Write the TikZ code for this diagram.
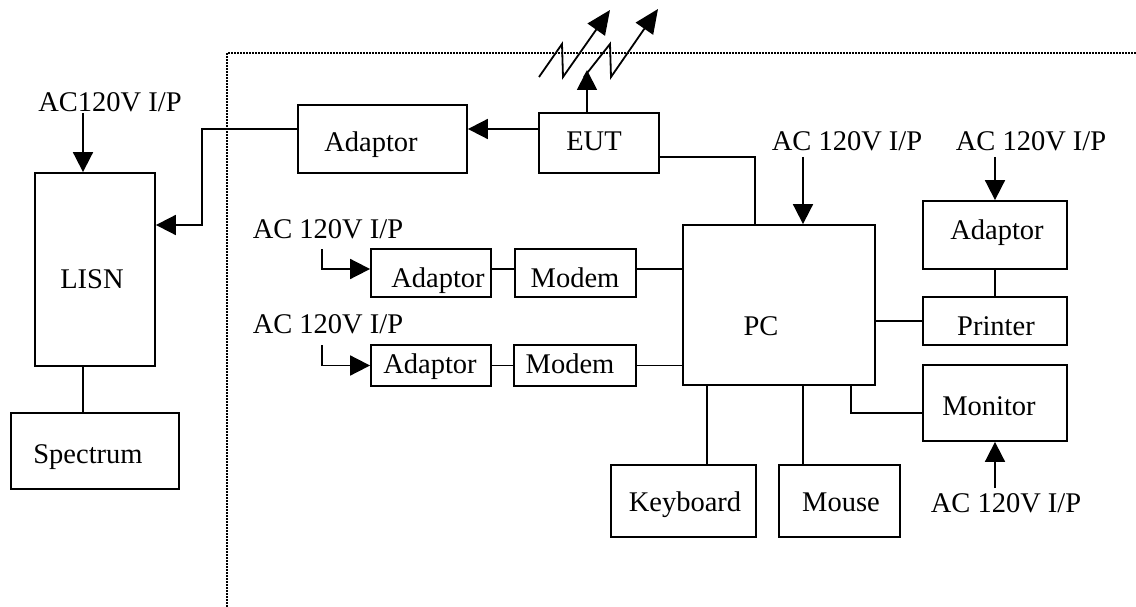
\documentclass[tikz,border=0pt]{standalone}
\usepackage{fontspec}
\setmainfont{Liberation Serif}
\usetikzlibrary{arrows.meta,calc}
\begin{document}
\begin{tikzpicture}[x=1pt,y=-1pt,
  box/.style={draw,line width=1.8pt,rectangle,inner sep=0pt},
  txt/.style={anchor=base,inner sep=0pt,font=\fontsize{28.5}{34}\selectfont},
  wire/.style={line width=1.8pt},
  arr/.style={line width=1.8pt,-{Triangle[length=20pt,width=20pt]}},
  antarr/.style={line width=1.8pt,-{Triangle[length=24pt,width=21pt]}},
  dotline/.style={line width=1.4pt,dash pattern=on 1.6pt off 1.4pt}]
\useasboundingbox (0,0) rectangle (1136,607);
% dotted boundary
\draw[dotline] (227,607) -- (227,53) -- (1136,53);
% boxes
\node[box,minimum width=169pt,minimum height=68pt] (adtop) at (382.5,139) {};
\node[txt] at (371,152) {Adaptor};
\node[box,minimum width=120pt,minimum height=60pt] (eut) at (599,143) {};
\node[txt] at (594,151) {EUT};
\node[box,minimum width=120pt,minimum height=193pt] (lisn) at (95,269.5) {};
\node[txt] at (92,288) {LISN};
\node[box,minimum width=168pt,minimum height=76pt] (spec) at (95,451) {};
\node[txt] at (88,463) {Spectrum};
\node[box,minimum width=120pt,minimum height=48pt] (ad1) at (431,273) {};
\node[txt] at (438,287) {Adaptor};
\node[box,minimum width=121pt,minimum height=48pt] (mo1) at (575.5,273) {};
\node[txt] at (575,287) {Modem};
\node[box,minimum width=120pt,minimum height=41pt] (ad2) at (431,365.5) {};
\node[txt] at (430,373) {Adaptor};
\node[box,minimum width=122pt,minimum height=41pt] (mo2) at (575,365.5) {};
\node[txt] at (570,373) {Modem};
\node[box,minimum width=192pt,minimum height=160pt] (pc) at (779,305) {};
\node[txt] at (761,335) {PC};
\node[box,minimum width=144pt,minimum height=68pt] (adr) at (995,235) {};
\node[txt] at (997,240) {Adaptor};
\node[box,minimum width=144pt,minimum height=48pt] (prn) at (995,321) {};
\node[txt] at (996,335) {Printer};
\node[box,minimum width=144pt,minimum height=76pt] (mon) at (995,403) {};
\node[txt] at (989,415) {Monitor};
\node[box,minimum width=145pt,minimum height=72pt] (kbd) at (683.5,501) {};
\node[txt] at (685,511) {Keyboard};
\node[box,minimum width=121pt,minimum height=72pt] (mouse) at (839.5,501) {};
\node[txt] at (841,511) {Mouse};
% power labels
\node[txt] (aclisn) at (110,112) {AC120V I/P};
\node[txt] (ac1) at (328,238) {AC 120V I/P};
\node[txt] (ac2) at (328,333) {AC 120V I/P};
\node[txt] (acpc) at (847,151) {AC 120V I/P};
\node[txt] (acadr) at (1031,151) {AC 120V I/P};
\node[txt] (acmon) at (1006,512) {AC 120V I/P};
% connectors
\draw[arr] ($(eut.west)+(0,-14)$) -- ($(adtop.east)+(0,-10)$);
\draw[arr] ($(adtop.west)+(0,-10)$) -- ++(-95,0) |- ($(lisn.east)+(0,-44.5)$);
\draw[arr] ($(lisn.north |- aclisn.base)+(-12,1)$) -- ($(lisn.north)+(-12,0)$);
\coordinate (ls) at ($(lisn.south)+(-12,0)$);
\draw[wire] (ls) -- (ls |- spec.north);
\coordinate (ant) at (587,70);
\draw[arr] ($(eut.north)+(-12,0)$) -- (ant);
\draw[wire] ($(eut.east)+(0,14)$) -| ($(pc.north)+(-24,0)$);
\draw[arr] ($(pc.north |- acpc.base)+(24,6)$) -- ($(pc.north)+(24,0)$);
\draw[arr] ($(adr.north |- acadr.base)+(0,6)$) -- (adr.north);
\draw[wire] (adr.south) -- (prn.north);
\draw[wire] ($(pc.east)+(0,16)$) -- (prn.west);
\draw[wire] ($(pc.south)+(72,0)$) |- ($(mon.west)+(0,10)$);
\draw[arr] ($(mon.south |- acmon.base)+(0,-24)$) -- (mon.south);
\coordinate (k1) at ($(pc.south)+(-72,0)$);
\draw[wire] (k1) -- (k1 |- kbd.north);
\coordinate (m1) at ($(pc.south)+(24,0)$);
\draw[wire] (m1) -- (m1 |- mouse.north);
\draw[wire] ($(ad1.east)+(0,-4)$) -- ($(mo1.west)+(0,-4)$);
\draw[wire] ($(mo1.east)+(0,-4)$) -- ($(mo1.east -| pc.west)+(0,-4)$);
\draw[wire] (ad2.east) -- (mo2.west);
\draw[wire] (mo2.east) -- (mo2.east -| pc.west);
\draw[arr] ($(ac1.base)+(-6,11)$) |- ($(ad1.west)+(0,-4)$);
\draw[arr] ($(ac2.base)+(-6,12)$) |- (ad2.west);
% antenna zigzags
\draw[antarr,line join=miter] (539,77) -- (562,44) -- (563,77) -- (610,10);
\draw[antarr,line join=miter] (584,77) -- (610,44) -- (611,77) -- (658,9);
\end{tikzpicture}
\end{document}
